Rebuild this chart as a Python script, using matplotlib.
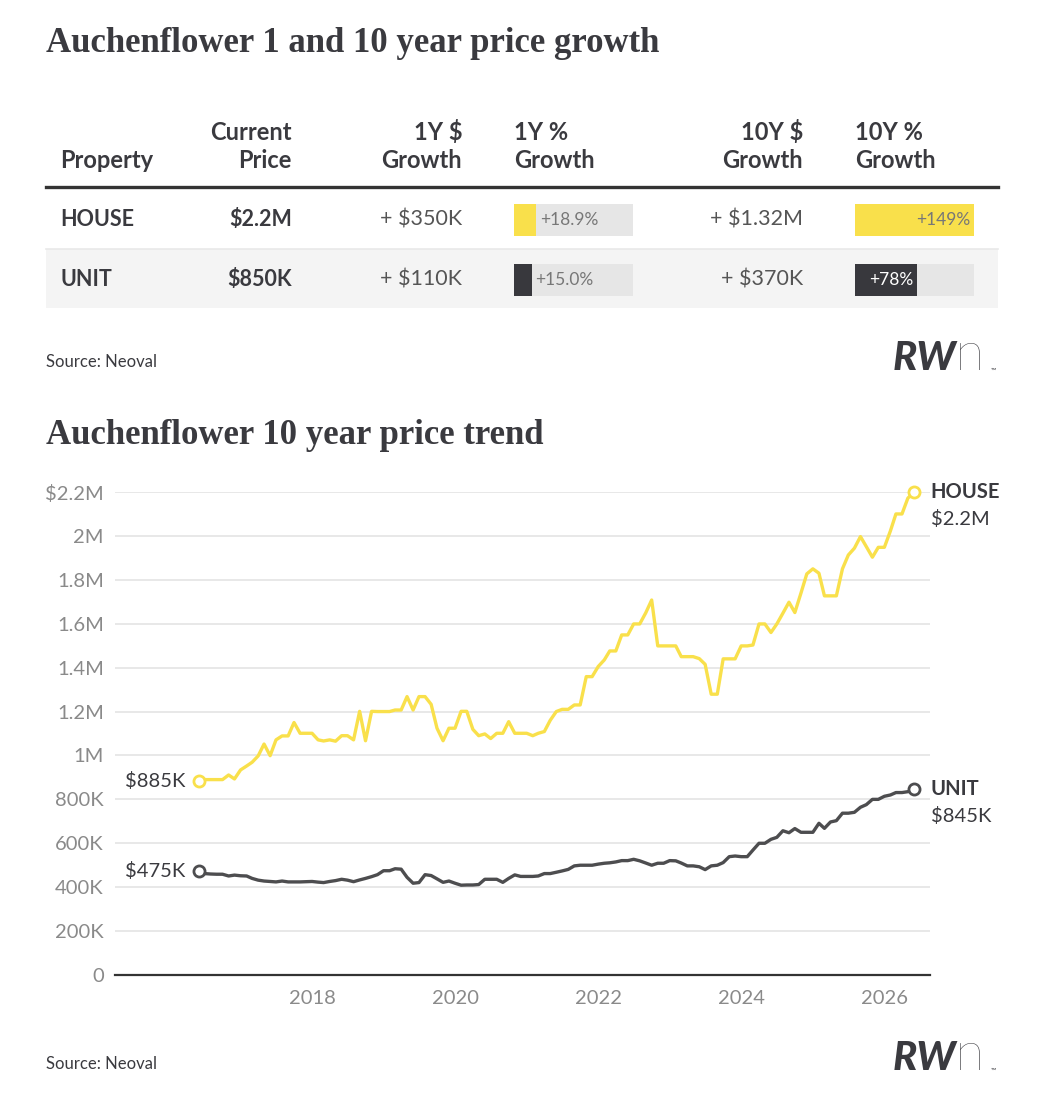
import numpy as np
import pandas as pd
import matplotlib
matplotlib.use('Agg')
import matplotlib.pyplot as plt
from matplotlib.patches import Rectangle
from matplotlib.lines import Line2D

plt.rcParams['font.family'] = ['Lato', 'DejaVu Sans']

# ---- table data ----
properties = ['HOUSE', 'UNIT']
current_price = ['$2.2M', '$850K']
growth_1y_dollar = ['+ $350K', '+ $110K']
growth_1y_pct = [18.9, 15.0]
growth_10y_dollar = ['+ $1.32M', '+ $370K']
growth_10y_pct = [149, 78]
header_top = ['', 'Current', '1Y $', '1Y %', '10Y $', '10Y %']
header_bottom = ['Property', 'Price', 'Growth', 'Growth', 'Growth', 'Growth']

# ---- trend data (monthly, $M) ----
months = pd.date_range('2016-06-01', periods=121, freq='MS')
house_m = [0.885, 0.89, 0.89, 0.89, 0.89, 0.911, 0.893, 0.934, 0.952, 0.969,
           0.998, 1.052, 0.999, 1.071, 1.089, 1.089, 1.150, 1.101, 1.101, 1.101,
           1.071, 1.066, 1.071, 1.065, 1.090, 1.090, 1.071, 1.201, 1.067, 1.201,
           1.200, 1.200, 1.200, 1.207, 1.207, 1.268, 1.207, 1.268, 1.268, 1.233,
           1.124, 1.067, 1.124, 1.124, 1.201, 1.201, 1.119, 1.090, 1.098, 1.077,
           1.101, 1.101, 1.154, 1.101, 1.101, 1.101, 1.090, 1.101, 1.109, 1.160,
           1.200, 1.210, 1.210, 1.230, 1.230, 1.359, 1.359, 1.405, 1.435, 1.476,
           1.476, 1.549, 1.549, 1.599, 1.599, 1.650, 1.708, 1.499, 1.499, 1.499,
           1.499, 1.450, 1.450, 1.450, 1.441, 1.415, 1.279, 1.279, 1.440, 1.440,
           1.440, 1.499, 1.499, 1.503, 1.599, 1.599, 1.560, 1.599, 1.648, 1.698,
           1.651, 1.739, 1.827, 1.850, 1.830, 1.727, 1.727, 1.727, 1.850, 1.913,
           1.944, 1.997, 1.951, 1.903, 1.948, 1.948, 2.023, 2.100, 2.100, 2.172,
           2.199]
unit_m = [0.475, 0.462, 0.460, 0.459, 0.459, 0.451, 0.455, 0.452, 0.451, 0.440,
          0.432, 0.428, 0.426, 0.424, 0.428, 0.424, 0.424, 0.424, 0.425, 0.426,
          0.423, 0.421, 0.426, 0.430, 0.436, 0.432, 0.425, 0.433, 0.440, 0.448,
          0.457, 0.475, 0.475, 0.484, 0.482, 0.445, 0.418, 0.421, 0.457, 0.453,
          0.438, 0.422, 0.428, 0.418, 0.409, 0.410, 0.410, 0.412, 0.436, 0.436,
          0.436, 0.422, 0.440, 0.456, 0.449, 0.449, 0.449, 0.451, 0.462, 0.462,
          0.468, 0.474, 0.481, 0.497, 0.500, 0.500, 0.500, 0.505, 0.509, 0.511,
          0.515, 0.521, 0.521, 0.527, 0.520, 0.510, 0.500, 0.509, 0.509, 0.521,
          0.520, 0.510, 0.497, 0.497, 0.493, 0.480, 0.497, 0.500, 0.512, 0.539,
          0.542, 0.539, 0.539, 0.569, 0.600, 0.600, 0.618, 0.627, 0.657, 0.648,
          0.667, 0.650, 0.650, 0.650, 0.691, 0.668, 0.697, 0.703, 0.737, 0.737,
          0.741, 0.764, 0.776, 0.800, 0.800, 0.814, 0.820, 0.831, 0.831, 0.835,
          0.845]
house = np.array(house_m) * 1e6
unit = np.array(unit_m) * 1e6
y_ticks = np.arange(0, 2.2e6 + 1, 2e5)
x_tick_years = [2018, 2020, 2022, 2024, 2026]

YELLOW = '#f9e04b'
DARK = '#38383d'
LINE_DARK = '#4d4d4f'
TXT = '#3a3a3f'

W, H = 1038, 1112
fig = plt.figure(figsize=(W / 100, H / 100), dpi=100)
fig.patch.set_facecolor('white')


def fx(x):
    return x / W


def fy(y):
    return 1 - y / H


def money(v):
    if v >= 1e6:
        return '${:.1f}M'.format(v / 1e6)
    return '${:.0f}K'.format(v / 1e3)


def draw_logo(yc):
    fig.text(fx(893), fy(yc), 'RW', fontsize=29, fontweight='black', style='italic',
             color=TXT, va='center', ha='left')
    fig.text(fx(955), fy(yc - 2), 'n', fontsize=39, fontweight='light',
             color=TXT, va='center', ha='left')
    fig.text(fx(991), fy(yc + 12), '™', fontsize=5, color=TXT, va='center', ha='left')


title_font = dict(family=['Liberation Serif', 'DejaVu Serif'], fontweight='bold',
                  color=TXT, fontsize=25)

# ---------------- table ----------------
fig.text(fx(46), fy(44), 'Auchenflower 1 and 10 year price growth', va='center', **title_font)

col_x = [60, 292, 462, 514, 803, 855]
col_ha = ['left', 'right', 'right', 'left', 'right', 'left']
for x, ha, t1, t2 in zip(col_x, col_ha, header_top, header_bottom):
    fig.text(fx(x), fy(132), t1, ha=ha, va='center', fontsize=17, fontweight='bold', color=TXT)
    fig.text(fx(x), fy(160), t2, ha=ha, va='center', fontsize=17, fontweight='bold', color=TXT)

fig.add_artist(Line2D([fx(46), fx(998)], [fy(187), fy(187)], color='#333333', lw=2.4))
fig.add_artist(Rectangle((fx(46), fy(308)), fx(998) - fx(46), (308 - 249) / H,
                         facecolor='#f4f4f4', edgecolor='none', zorder=0))
fig.add_artist(Line2D([fx(46), fx(998)], [fy(248.5), fy(248.5)], color='#e9e9e9', lw=1.2))

row_y = [220, 280]
for i, yc in enumerate(row_y):
    fig.text(fx(60), fy(yc), properties[i], ha='left', va='center', fontsize=15.5,
             fontweight='bold', color=TXT)
    fig.text(fx(292), fy(yc), current_price[i], ha='right', va='center', fontsize=15.5,
             fontweight='bold', color=TXT)
    fig.text(fx(462), fy(yc), growth_1y_dollar[i], ha='right', va='center', fontsize=15.5,
             color='#555555')
    fig.text(fx(803), fy(yc), growth_10y_dollar[i], ha='right', va='center', fontsize=15.5,
             color='#555555')

bar_colors = [YELLOW, DARK]
rows = np.arange(len(properties))
for x0, x1, vals, vmax in [(514, 633, growth_1y_pct, 100), (855, 974, growth_10y_pct, max(growth_10y_pct))]:
    bax = fig.add_axes([fx(x0), fy(310), fx(x1) - fx(x0), (310 - 190) / H])
    bax.set_xlim(0, vmax)
    bax.set_ylim(1.5, -0.5)
    bax.barh(rows, [vmax] * len(rows), height=0.54, color='#e6e6e6')
    bax.barh(rows, vals, height=0.54, color=bar_colors)
    bax.axis('off')
    pad = vmax * 0.03
    for r, v in zip(rows, vals):
        lab = '+{:.1f}%'.format(v) if vmax == 100 else '+{:.0f}%'.format(v)
        if v / vmax > 0.4:
            c = 'white' if bar_colors[r] == DARK else '#777777'
            bax.text(v - pad, r, lab, ha='right', va='center', fontsize=12.5, color=c)
        else:
            bax.text(v + pad, r, lab, ha='left', va='center', fontsize=12.5, color='#777777')

fig.text(fx(46), fy(362), 'Source: Neoval', ha='left', va='center', fontsize=12, color=TXT)
draw_logo(358)

# ---------------- trend chart ----------------
fig.text(fx(46), fy(435), 'Auchenflower 10 year price trend', va='center', **title_font)

ax = fig.add_axes([fx(115), fy(975), fx(930) - fx(115), (975 - 492) / H])
ax.plot(months, house, color=YELLOW, lw=2.4, solid_joinstyle='round', zorder=3)
ax.plot(months, unit, color=LINE_DARK, lw=2.4, solid_joinstyle='round', zorder=3)
for s, c in [(house, YELLOW), (unit, LINE_DARK)]:
    ax.plot([months[0], months[-1]], [s[0], s[-1]], 'o', mfc='white', mec=c, ms=8, mew=2,
            clip_on=False, zorder=5)

ax.set_ylim(0, 2.2e6)
ax.set_xlim(pd.Timestamp('2015-04-01'), pd.Timestamp('2026-08-22'))
ax.set_yticks(y_ticks)
ylabs = []
for v in y_ticks:
    if v == 0:
        ylabs.append('0')
    elif v >= 1e6:
        ylabs.append('{:g}M'.format(round(v / 1e6, 1)))
    else:
        ylabs.append('{:.0f}K'.format(v / 1e3))
ylabs[-1] = '$' + ylabs[-1]
ax.set_yticklabels(ylabs)
ax.set_xticks([pd.Timestamp('{}-01-01'.format(y)) for y in x_tick_years])
ax.set_xticklabels([str(y) for y in x_tick_years])
ax.tick_params(axis='both', length=0, labelsize=14.5, labelcolor='#8a8a8a')
ax.tick_params(axis='y', pad=8)
ax.tick_params(axis='x', pad=11)
ax.grid(axis='y', color='#e6e6e6', lw=1.3)
ax.set_axisbelow(True)
for sp in ['top', 'right', 'left']:
    ax.spines[sp].set_visible(False)
ax.spines['bottom'].set_color('#333333')
ax.spines['bottom'].set_linewidth(1.6)

for s, name in [(house, 'HOUSE'), (unit, 'UNIT')]:
    ax.annotate(name, (months[-1], s[-1]), xytext=(12, 0), textcoords='offset points',
                ha='left', va='center', fontsize=14.5, fontweight='bold', color=TXT,
                annotation_clip=False)
    ax.annotate(money(s[-1]), (months[-1], s[-1]), xytext=(12, -19), textcoords='offset points',
                ha='left', va='center', fontsize=14.5, color=TXT, annotation_clip=False)
    ax.annotate(money(s[0]), (months[0], s[0]), xytext=(-9.5, 0), textcoords='offset points',
                ha='right', va='center', fontsize=14.5, color=TXT, annotation_clip=False)

fig.text(fx(46), fy(1064), 'Source: Neoval', ha='left', va='center', fontsize=12, color=TXT)
draw_logo(1058)

fig.savefig('out.png', dpi=100, facecolor='white')
